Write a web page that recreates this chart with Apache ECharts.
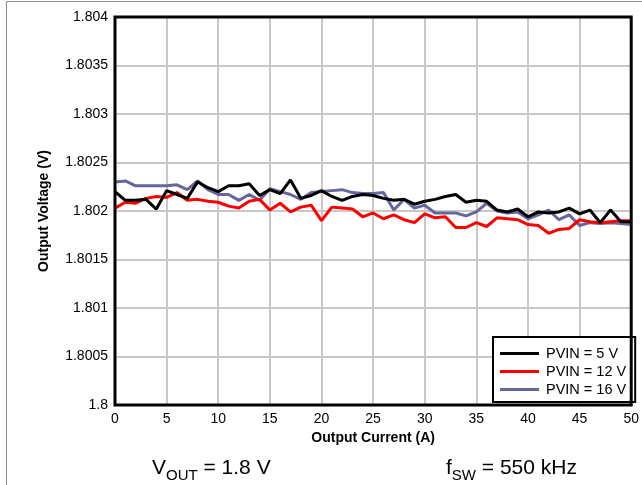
<!DOCTYPE html>
<html>
<head>
<meta charset="utf-8">
<script src="https://cdn.jsdelivr.net/npm/echarts@6/dist/echarts.min.js"></script>
<style>
  html, body { margin: 0; padding: 0; background: #fff; }
  #chart { width: 642px; height: 485px; }
</style>
</head>
<body>
<div id="chart"></div>
<script>
// output current, A (1 A steps)
const current = [
  0, 1, 2, 3, 4, 5, 6, 7, 8, 9, 10, 11, 12, 13, 14, 15, 16, 17, 18, 19, 20,
  21, 22, 23, 24, 25, 26, 27, 28, 29, 30, 31, 32, 33, 34, 35, 36, 37, 38, 39, 40,
  41, 42, 43, 44, 45, 46, 47, 48, 49, 50
]
const pvin5 = [
  1.80220, 1.80211, 1.80211, 1.80212, 1.80202, 1.80221, 1.80217, 1.80213, 1.80230, 1.80224, 1.80220,
  1.80226, 1.80226, 1.80228, 1.80216, 1.80222, 1.80218, 1.80232, 1.80213, 1.80216, 1.80221,
  1.80215, 1.80211, 1.80215, 1.80217, 1.80216, 1.80213, 1.80211, 1.80212, 1.80207, 1.80210,
  1.80212, 1.80215, 1.80217, 1.80209, 1.80211, 1.80210, 1.80201, 1.80199, 1.80202, 1.80194,
  1.80199, 1.80198, 1.80199, 1.80203, 1.80197, 1.80201, 1.80188, 1.80201, 1.80189, 1.80189
]
const pvin12 = [
  1.80203, 1.80209, 1.80208, 1.80213, 1.80215, 1.80214, 1.80219, 1.80211, 1.80212, 1.80210, 1.80209,
  1.80205, 1.80203, 1.80210, 1.80212, 1.80201, 1.80208, 1.80199, 1.80204, 1.80206, 1.80190,
  1.80204, 1.80203, 1.80202, 1.80194, 1.80198, 1.80192, 1.80196, 1.80191, 1.80188, 1.80197,
  1.80193, 1.80194, 1.80183, 1.80183, 1.80188, 1.80184, 1.80193, 1.80192, 1.80191, 1.80186,
  1.80185, 1.80177, 1.80181, 1.80182, 1.80191, 1.80189, 1.80188, 1.80189, 1.80190, 1.80190
]
const pvin16 = [
  1.80230, 1.80231, 1.80226, 1.80226, 1.80226, 1.80226, 1.80227, 1.80222, 1.80231, 1.80222, 1.80217,
  1.80217, 1.80211, 1.80217, 1.80211, 1.80223, 1.80220, 1.80217, 1.80212, 1.80219, 1.80220,
  1.80221, 1.80222, 1.80219, 1.80218, 1.80218, 1.80219, 1.80201, 1.80212, 1.80203, 1.80206,
  1.80198, 1.80198, 1.80198, 1.80195, 1.80199, 1.80208, 1.80200, 1.80198, 1.80199, 1.80192,
  1.80196, 1.80201, 1.80191, 1.80196, 1.80185, 1.80188, 1.80187, 1.80188, 1.80187, 1.80186
]
const seriesNames = ['PVIN = 5 V', 'PVIN = 12 V', 'PVIN = 16 V']
const seriesColors = ['#000000', '#ff0000', '#66669c']

const font = 'Liberation Sans, Arial, sans-serif'
const myChart = echarts.init(document.getElementById('chart'))

const pairs = ys => current.map((x, i) => [x, ys[i]])
const series = [pvin5, pvin12, pvin16].map((ys, i) => ({
  name: seriesNames[i],
  type: 'line',
  data: pairs(ys),
  symbol: 'none',
  color: seriesColors[i],
  lineStyle: { width: 3, color: seriesColors[i] },
  z: 3 - i
}))

// subscript text like V_OUT
const subText = { fontFamily: font, fontSize: 21, color: '#000', lineHeight: 26, verticalAlign: 'bottom' }
const subRich = {
  a: subText,
  s: { fontFamily: font, fontSize: 15, color: '#000', lineHeight: 26, verticalAlign: 'bottom', padding: [0, 0, -4, 0] }
}

const option = {
  animation: false,
  backgroundColor: '#fff',
  grid: {
    left: 115, top: 17, width: 518, height: 388,
    show: true, borderColor: '#000', borderWidth: 3, backgroundColor: 'transparent',
    z: 5
  },
  legend: {
    orient: 'vertical',
    left: 493, top: 337,
    padding: [8, 9, 4, 7],
    itemGap: 1,
    itemWidth: 39, itemHeight: 3,
    icon: 'rect',
    backgroundColor: '#fff',
    borderColor: '#000', borderWidth: 2,
    textStyle: { fontFamily: font, fontSize: 14.5, lineHeight: 17, color: '#000', padding: [0, 0, 0, 2] },
    data: seriesNames
  },
  xAxis: {
    type: 'value',
    min: 0, max: 50, interval: 5,
    name: 'Output Current (A)',
    nameLocation: 'middle',
    nameGap: 26,
    nameTextStyle: { fontFamily: font, fontSize: 14, fontWeight: 'bold', color: '#000' },
    axisLine: { show: false },
    axisTick: { show: false },
    axisLabel: { fontFamily: font, fontSize: 14, color: '#000', margin: 7 },
    splitLine: { lineStyle: { color: '#c8c8c8', width: 2 } }
  },
  yAxis: {
    type: 'value',
    min: 1.8, max: 1.804, interval: 0.0005,
    name: 'Output Voltage (V)',
    nameLocation: 'middle',
    nameGap: 64,
    nameTextStyle: { fontFamily: font, fontSize: 14, fontWeight: 'bold', color: '#000' },
    axisLine: { show: false },
    axisTick: { show: false },
    axisLabel: {
      fontFamily: font, fontSize: 14, color: '#000', margin: 7,
      formatter: v => String(parseFloat(v.toFixed(4)))
    },
    splitLine: { lineStyle: { color: '#c8c8c8', width: 2 } }
  },
  graphic: [
    // outer frame of the figure
    {
      type: 'polyline',
      shape: { points: [[6.5, 485], [6.5, 1.5], [642, 1.5]] },
      style: { stroke: '#8c8c8c', lineWidth: 1, fill: null },
      silent: true
    },
    { type: 'text', left: 152, top: 458, style: { text: '{a|V}{s|OUT}{a| = 1.8 V}', rich: subRich } },
    { type: 'text', left: 446, top: 458, style: { text: '{a|f}{s|SW}{a| = 550 kHz}', rich: subRich } }
  ],
  series: series
}
myChart.setOption(option)
</script>
</body>
</html>
